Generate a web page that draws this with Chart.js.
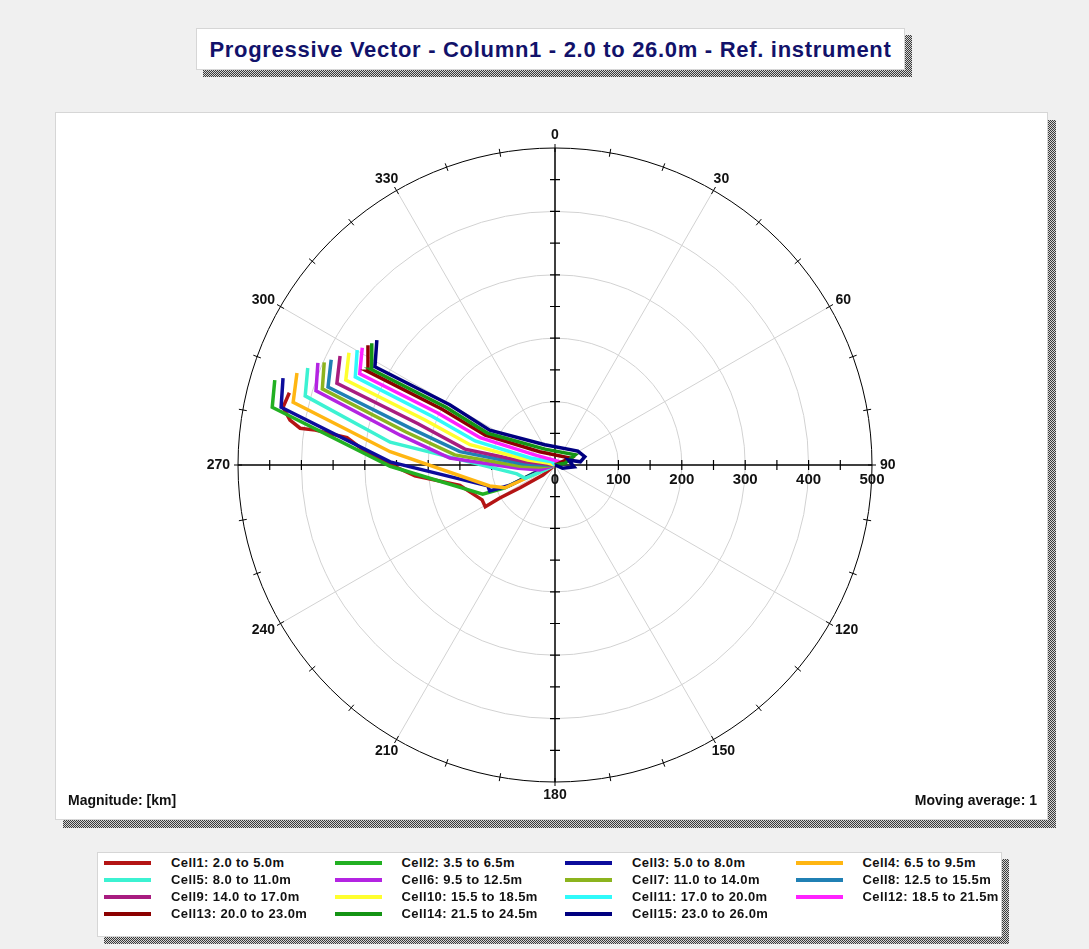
<!DOCTYPE html>
<html>
<head>
<meta charset="utf-8">
<script src="https://cdn.jsdelivr.net/npm/chart.js@4"></script>
<style>
body { margin:0; background:#f0f0f0; width:1089px; height:949px; position:relative; overflow:hidden; font-family:"Liberation Sans", Arial, sans-serif; }
.shadow { position:absolute; background:repeating-conic-gradient(#3a3a3a 0 25%, #d4d4d4 0 50%) 0 0/2px 2px; }
.box { position:absolute; background:#fff; border:1px solid #d6d6d6; box-sizing:border-box; }
#title { font-weight:bold; font-size:22px; letter-spacing:0.7px; color:#12126a; text-align:center; line-height:42px; }
.corner { position:absolute; font-weight:bold; font-size:14px; color:#111; }
.leg { position:absolute; font-weight:bold; font-size:13px; letter-spacing:0.4px; color:#111; white-space:nowrap; }
.legline { position:absolute; width:47px; height:4px; }
#plot { position:absolute; left:55px; top:112px; }
</style>
</head>
<body>
<div class="shadow" style="left:203px;top:35px;width:709px;height:42px"></div>
<div class="box" id="title" style="left:196px;top:28px;width:709px;height:42px">Progressive Vector - Column1 - 2.0 to 26.0m - Ref. instrument</div>

<div class="shadow" style="left:63px;top:120px;width:993px;height:708px"></div>
<div class="box" style="left:55px;top:112px;width:993px;height:708px"></div>
<canvas id="plot" width="993" height="708"></canvas>
<div class="corner" style="left:68px;top:792px">Magnitude: [km]</div>
<div class="corner" style="right:52px;top:792px">Moving average: 1</div>

<div class="shadow" style="left:104px;top:859px;width:905px;height:85px"></div>
<div class="box" id="legend" style="left:97px;top:852px;width:905px;height:85px"></div>

<script>
// track data: [east km, north km], starting at the origin
const cell1 = [[0,0],[-19,-16],[-55,-36],[-87,-52],[-110,-66],[-115,-55],[-150,-32],[-221,-17],[-292,16],[-328,43],[-378,55],[-402,58],[-418,71],[-429,91],[-419,114]];
const cell2 = [[0,0],[-24,-8],[-79,-36],[-114,-46],[-260,-2],[-446,91],[-442,134]];
const cell3 = [[0,0],[-16,-5],[-71,-32],[-103,-41],[-106,-33],[-260,5],[-432,91],[-429,137]];
const cell4 = [[0,0],[-24,-11],[-79,-36],[-103,-33],[-260,21],[-413,99],[-407,145]];
const cell5 = [[0,0],[-16,-8],[-47,-21],[-60,-14],[-260,36],[-394,109],[-390,153]];
const cell6 = [[0,0],[-24,-8],[-58,-5],[-166,11],[-244,47],[-377,117],[-374,161]];
const cell7 = [[0,0],[-24,-3],[-55,-2],[-158,16],[-235,52],[-367,120],[-364,162]];
const cell8 = [[0,0],[-19,0],[-52,2],[-150,21],[-226,57],[-358,123],[-353,166]];
const cell9 = [[0,0],[-16,2],[-47,5],[-142,25],[-216,65],[-344,129],[-339,172]];
const cell10 = [[0,0],[-11,3],[-43,8],[-134,32],[-205,71],[-330,134],[-325,177]];
const cell11 = [[0,0],[-5,5],[-39,11],[-126,38],[-194,77],[-315,139],[-312,181]];
const cell12 = [[0,0],[8,5],[-32,16],[-118,43],[-185,82],[-308,144],[-304,185]];
const cell13 = [[0,0],[24,11],[-24,21],[-110,47],[-178,88],[-296,148],[-295,189]];
const cell14 = [[0,0],[16,3],[32,16],[-16,25],[-106,50],[-172,91],[-290,151],[-289,192]];
const cell15 = [[0,0],[12,-5],[30,-3],[21,8],[40,5],[47,13],[36,22],[-16,32],[-103,55],[-166,95],[-284,155],[-281,197]];

const tracks = [cell1, cell2, cell3, cell4, cell5, cell6, cell7, cell8, cell9, cell10, cell11, cell12, cell13, cell14, cell15];
const cellNames = ['Cell1: 2.0 to 5.0m','Cell2: 3.5 to 6.5m','Cell3: 5.0 to 8.0m','Cell4: 6.5 to 9.5m',
  'Cell5: 8.0 to 11.0m','Cell6: 9.5 to 12.5m','Cell7: 11.0 to 14.0m','Cell8: 12.5 to 15.5m',
  'Cell9: 14.0 to 17.0m','Cell10: 15.5 to 18.5m','Cell11: 17.0 to 20.0m','Cell12: 18.5 to 21.5m',
  'Cell13: 20.0 to 23.0m','Cell14: 21.5 to 24.5m','Cell15: 23.0 to 26.0m'];
const cellColors = ['#b41414','#22b022','#0c0c9c','#ffb612','#3cf2d2','#b424e2','#8cb41e','#2080b4',
  '#a81c80','#ffff2e','#30fafa','#ff22ff','#8c0000','#149414','#000080'];

const angleLabels = [0,30,60,90,120,150,180,210,240,270,300,330];
const magnitudeLabels = [0,100,200,300,400,500];

// legend (html)
var legend = document.getElementById('legend');
cellNames.forEach(function(name, i) {
  var col = i % 4, row = Math.floor(i / 4);
  var ln = document.createElement('div');
  ln.className = 'legline';
  ln.style.left = (6 + col * 230.5) + 'px';
  ln.style.top = (8 + row * 17) + 'px';
  ln.style.background = cellColors[i];
  legend.appendChild(ln);
  var t = document.createElement('div');
  t.className = 'leg';
  t.textContent = name;
  t.style.left = (73 + col * 230.5) + 'px';
  t.style.top = (2 + row * 17) + 'px';
  legend.appendChild(t);
});

var polarGrid = {
  id: 'polarGrid',
  beforeDatasetsDraw: function(chart) {
    var c = chart.ctx, xs = chart.scales.x, ys = chart.scales.y;
    var cx = xs.getPixelForValue(0), cy = ys.getPixelForValue(0);
    var R = xs.getPixelForValue(500) - cx;
    var k = R / 500;
    c.save();
    // light rings
    c.strokeStyle = '#d2d2d2';
    c.lineWidth = 1;
    [100, 200, 300, 400].forEach(function(m) {
      c.beginPath(); c.arc(cx, cy, m * k, 0, Math.PI * 2); c.stroke();
    });
    // spokes
    for (var a = 30; a < 360; a += 30) {
      if (a % 90 === 0) continue;
      var r = a * Math.PI / 180;
      c.beginPath(); c.moveTo(cx, cy); c.lineTo(cx + R * Math.sin(r), cy - R * Math.cos(r)); c.stroke();
    }
    // outer circle + degree ticks
    c.strokeStyle = '#000';
    c.beginPath(); c.arc(cx, cy, R, 0, Math.PI * 2); c.stroke();
    for (var d = 0; d < 360; d += 10) {
      var rr = d * Math.PI / 180, s = Math.sin(rr), co = Math.cos(rr);
      c.beginPath(); c.moveTo(cx + (R - 4) * s, cy - (R - 4) * co); c.lineTo(cx + (R + 4) * s, cy - (R + 4) * co); c.stroke();
    }
    // axes
    c.lineWidth = 1.5;
    c.beginPath();
    c.moveTo(cx - R, cy); c.lineTo(cx + R, cy);
    c.moveTo(cx, cy - R); c.lineTo(cx, cy + R);
    c.stroke();
    c.lineWidth = 1.2;
    for (var m = 50; m < 500; m += 50) {
      var p = m * k;
      c.beginPath();
      c.moveTo(cx + p, cy - 5); c.lineTo(cx + p, cy + 5);
      c.moveTo(cx - p, cy - 5); c.lineTo(cx - p, cy + 5);
      c.moveTo(cx - 5, cy + p); c.lineTo(cx + 5, cy + p);
      c.moveTo(cx - 5, cy - p); c.lineTo(cx + 5, cy - p);
      c.stroke();
    }
    // labels
    c.fillStyle = '#111';
    c.font = 'bold 14px "Liberation Sans", Arial, sans-serif';
    c.textAlign = 'center';
    c.textBaseline = 'middle';
    angleLabels.forEach(function(a) {
      var r = a * Math.PI / 180, s = Math.sin(r), co = Math.cos(r);
      var w = c.measureText(String(a)).width;
      var x = cx + (R + 7) * s + (w / 2 + 1) * s;
      var y = cy - (R + 7) * co - 6 * co;
      c.fillText(String(a), x, y);
    });
    c.font = 'bold 15px "Liberation Sans", Arial, sans-serif';
    magnitudeLabels.forEach(function(m) {
      c.fillText(String(m), cx + m * k, cy + 15);
    });
    c.restore();
  }
};

new Chart(document.getElementById('plot'), {
  type: 'scatter',
  data: {
    datasets: tracks.map(function(t, i) {
      return {
        label: cellNames[i],
        data: t.map(function(p) { return { x: p[0], y: p[1] }; }),
        showLine: true,
        borderColor: cellColors[i],
        backgroundColor: cellColors[i],
        borderWidth: 3.5,
        pointRadius: 0,
        tension: 0,
        order: tracks.length - i
      };
    })
  },
  options: {
    responsive: false,
    animation: false,
    devicePixelRatio: 1,
    layout: { padding: { left: 183, right: 176, top: 36, bottom: 38 } },
    plugins: { legend: { display: false }, title: { display: false }, tooltip: { enabled: false } },
    scales: {
      x: { type: 'linear', min: -500, max: 500, display: false },
      y: { type: 'linear', min: -500, max: 500, display: false }
    }
  },
  plugins: [polarGrid]
});
</script>
</body>
</html>
